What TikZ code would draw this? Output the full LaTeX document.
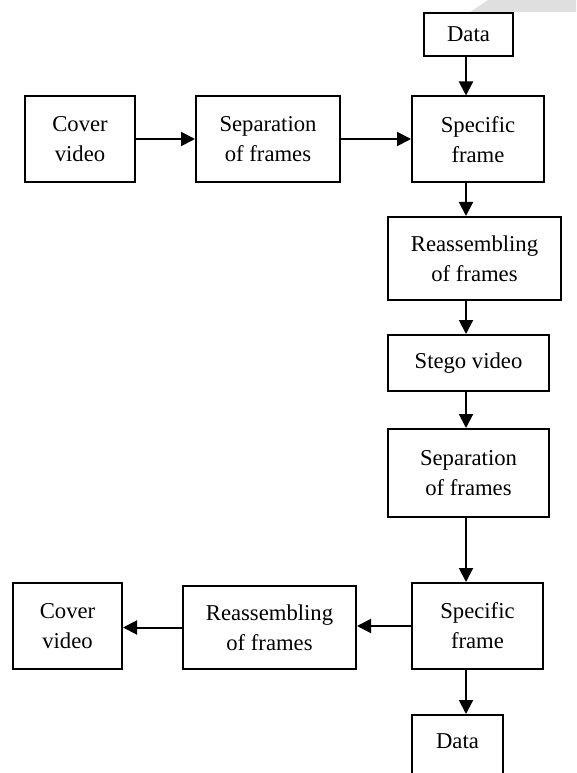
\documentclass[tikz,border=0pt]{standalone}
\usepackage{fontspec}
\setmainfont{Liberation Serif}
\usetikzlibrary{arrows.meta}
\newlength{\px}
\setlength{\px}{0.75pt}
\newlength{\lwidth}
\setlength{\lwidth}{1.5pt}

\tikzset{
  blk/.style={draw,line width=\lwidth,align=center,inner sep=0pt,
              font=\fontsize{17}{22.5}\selectfont},
  arr/.style={line width=\lwidth,-{Triangle[length=10.5pt,width=10.5pt]}}
}

\begin{document}
\begin{tikzpicture}[x=\px,y=-\px]
  %% page
  %% ------------------------------------
  \fill[white] (0,0) rectangle (576,773);
  \useasboundingbox (0,0) rectangle (576,773);
  \fill[gray!25] (470,12) -- (488,0) -- (576,0) -- (576,12) -- cycle;

  %% column and rows of the arrows
  \coordinate (col) at (466,0);

  %% embedding
  %% ------------------------------------
  \node[blk,minimum width=89\px,minimum height=43\px]  (data1)  at (468.5,34.5) {Data};
  \node[blk,minimum width=110\px,minimum height=86\px] (cover1) at (80,139)     {Cover\\video};
  \node[blk,minimum width=144\px,minimum height=86\px] (sep1)   at (268,139)    {Separation\\of frames};
  \node[blk,minimum width=132\px,minimum height=86\px] (spec1)  at (478,139.5)  {Specific\\frame};
  \node[blk,minimum width=173\px,minimum height=83\px] (reas1)  at (474.5,258.5){Reassembling\\of frames};
  \node[blk,minimum width=161\px,minimum height=56\px] (stego)  at (468.5,363)  {Stego video};

  %% extraction
  %% ------------------------------------
  \node[blk,minimum width=161\px,minimum height=88\px] (sep2)   at (468.5,473)  {Separation\\of frames};
  \node[blk,minimum width=131\px,minimum height=86\px] (spec2)  at (477.5,626)  {Specific\\frame};
  \node[blk,minimum width=173\px,minimum height=83\px] (reas2)  at (269.5,627.5){Reassembling\\of frames};
  \node[blk,minimum width=109\px,minimum height=86\px] (cover2) at (67.5,626)   {Cover\\video};
  \node[blk,minimum width=91\px,anchor=north,text height=11pt,text depth=30pt,
        inner ysep=14pt] (data2) at (457.5,714) {Data};

  %% arrows
  %% ------------------------------------
  \draw[arr] (cover1.east) -- (cover1.east -| sep1.west);
  \draw[arr] (sep1.east)   -- (sep1.east -| spec1.west);
  \draw[arr] (data1.south -| col) -- (spec1.north -| col);
  \draw[arr] (spec1.south -| col) -- (reas1.north -| col);
  \draw[arr] (reas1.south -| col) -- (stego.north -| col);
  \draw[arr] (stego.south -| col) -- (sep2.north -| col);
  \draw[arr] (sep2.south -| col)  -- (spec2.north -| col);
  \draw[arr] (spec2.south -| col) -- (data2.north -| col);
  \draw[arr] (spec2.west)  -- (spec2.west -| reas2.east);
  \draw[arr] (reas2.west)  -- (reas2.west -| cover2.east);
\end{tikzpicture}
\end{document}
